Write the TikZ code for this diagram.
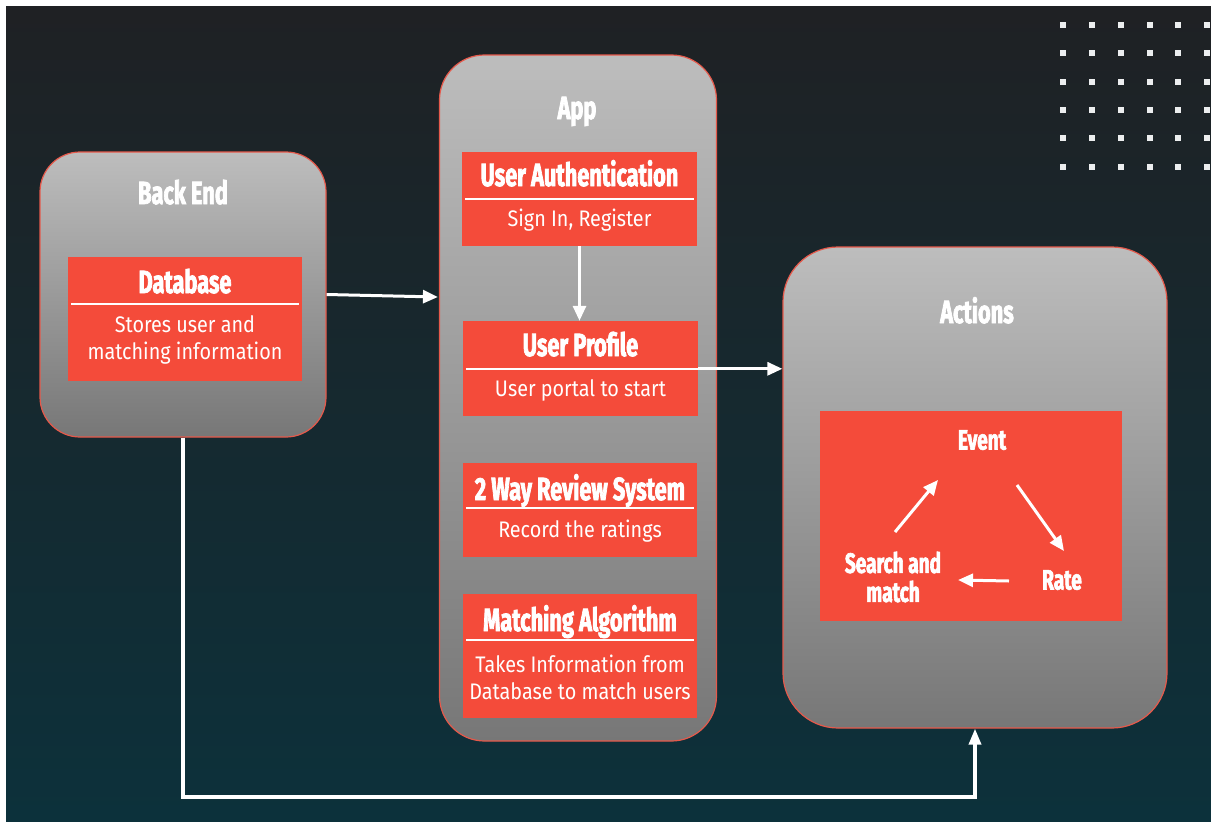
\documentclass[tikz,border=0pt]{standalone}
\usepackage{fontspec}
\newfontfamily\headfont[FakeStretch=0.68, BoldFeatures={FakeBold=2.2}]{Fira Sans}
\newfontfamily\bodyfont[FakeStretch=0.88]{Fira Sans}
\usetikzlibrary{arrows.meta,calc}
\definecolor{bgtop}{HTML}{1F2124}
\definecolor{bgbot}{HTML}{0C313B}
\definecolor{boxtop}{HTML}{BDBDBD}
\definecolor{boxbot}{HTML}{777777}
\definecolor{redbox}{HTML}{F44B3A}
\definecolor{redline}{HTML}{E5594B}
\definecolor{dotcol}{HTML}{ECEEEF}
\begin{document}
\begin{tikzpicture}[x=1pt,y=-1pt,
  panel/.style={draw=redline, line width=1.2pt, top color=boxtop, bottom color=boxbot, inner sep=0pt},
  redcard/.style={fill=redbox, draw=none, inner sep=0pt},
  title/.style={text=white, inner sep=0pt, text height=22pt, text depth=0pt, font=\headfont\bfseries\fontsize{32}{32}\selectfont},
  smalltitle/.style={text=white, inner sep=0pt, align=center, font=\headfont\bfseries\fontsize{28}{29}\selectfont},
  body/.style={text=white, inner sep=0pt, align=center, font=\bodyfont\fontsize{22.5}{27}\selectfont},
  divider/.style={draw=white, line width=2.5pt},
  arr/.style={draw=white, line width=3pt, -{Triangle[length=15pt,width=13pt]}},
  link/.style={draw=white, line width=3.5pt, -{Triangle[length=16pt,width=12pt]}}
]
\useasboundingbox (0,0) rectangle (1211,822);
\fill[white] (0,0) rectangle (1211,822);
\shade[top color=bgtop, bottom color=bgbot] (6,6) rectangle (1211,822);

% dot grid
\foreach \x in {1063,1092,1121,1150,1178,1207}
  \foreach \y in {25,53,82,110,138,167}
    \fill[dotcol] (\x-3,\y-3) rectangle (\x+3,\y+3);

% panels
\node[panel, minimum width=286pt, minimum height=285pt, rounded corners=40pt] (backend) at (183,294.5) {};
\node[panel, minimum width=277pt, minimum height=686pt, rounded corners=45pt] (app) at (578,398) {};
\node[panel, minimum width=384pt, minimum height=481pt, rounded corners=55pt] (actions) at (975,487.5) {};

\node[title] (betitle) at (183,193) {Back End};
\node[title] (apptitle) at (577,108) {App};
\node[title] (acttitle) at (977,312) {Actions};

% Back end card
\node[redcard, minimum width=234pt, minimum height=124pt] (db) at (185,319) {};
\node[title] (dbtitle) at (185,282) {Database};
\draw[divider] ($(db.north west)+(3,47)$) -- ($(db.north east)+(-3,47)$);
\node[body] (dbtext) at (185,340) {Stores user and\\matching information};

% App cards
\node[redcard, minimum width=235pt, minimum height=94pt] (auth) at (579.5,199) {};
\node[title] (authtitle) at (579.5,175) {User Authentication};
\draw[divider] ($(auth.north west)+(3,47)$) -- ($(auth.north east)+(-3,47)$);
\node[body] (authtext) at (579.5,220) {Sign In, Register};

\node[redcard, minimum width=235pt, minimum height=95pt] (prof) at (580.5,368.5) {};
\node[title] (proftitle) at (580.5,345) {User Profile};
\draw[divider] ($(prof.north west)+(3,48)$) coordinate (profdivl) -- ($(prof.north east)+(0,48)$) coordinate (profdivr);
\node[body] (proftext) at (580.5,390) {User portal to start};

\node[redcard, minimum width=234pt, minimum height=94pt] (rev) at (580,510) {};
\node[title] (revtitle) at (580,489) {2 Way Review System};
\draw[divider] ($(rev.north west)+(3,45)$) -- ($(rev.north east)+(-3,45)$);
\node[body] (revtext) at (580,531) {Record the ratings};

\node[redcard, minimum width=234pt, minimum height=124pt] (match) at (580,656) {};
\node[title] (matchtitle) at (580,620) {Matching Algorithm};
\draw[divider] ($(match.north west)+(3,46)$) -- ($(match.north east)+(-3,46)$);
\node[body] (matchtext) at (580,677) {Takes Information from\\Database to match users};

% Actions card
\node[redcard, minimum width=302pt, minimum height=210pt] (cycle) at (971,516) {};
\node[smalltitle, text height=19pt, text depth=0pt] (event) at (982,440) {Event};
\node[smalltitle, text height=19pt, text depth=0pt] (rate) at (1062,580) {Rate};
\node[smalltitle] (search) at (893,577) {Search and\\match};

\coordinate (s1) at (895,532);
\coordinate (e1) at (938,480);
\coordinate (e2) at (1017,485);
\coordinate (r1) at (1064,551);
\coordinate (r2) at (1009,581);
\coordinate (s2) at (958,580);
\draw[arr] (s1) -- (e1);
\draw[arr] (e2) -- (r1);
\draw[arr] (r2) -- (s2);

% connectors
\draw[arr] (backend.east) -- ($(app.west |- backend.east)+(-1,2.5)$);
\draw[arr] (auth.south) -- (auth.south |- prof.north);
\draw[arr] (profdivr) -- (actions.west |- profdivr);
\coordinate (turn) at (183,797);
\draw[link] (backend.south) -- (turn) -| (actions.south);
\end{tikzpicture}
\end{document}
